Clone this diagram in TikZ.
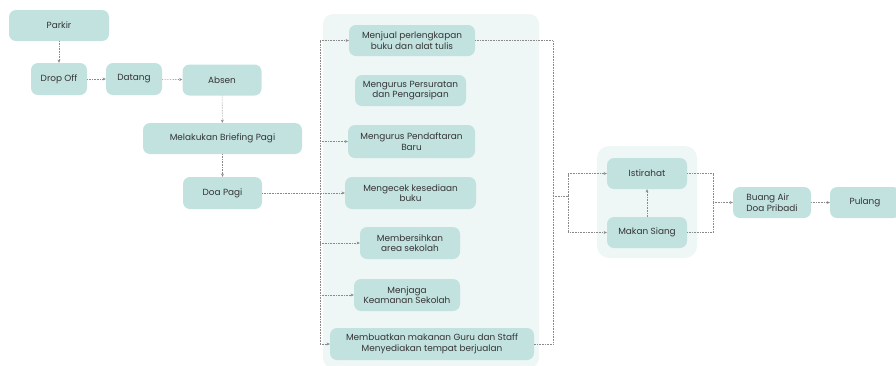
\documentclass[tikz,border=0pt]{standalone}
\usepackage{fontspec}
\setmainfont{Poppins}
\usetikzlibrary{arrows.meta,positioning,calc}
\definecolor{boxfill}{HTML}{C2E2E0}
\definecolor{panelfill}{HTML}{EEF7F6}
\definecolor{linkgray}{HTML}{8A8A8A}
\definecolor{txt}{HTML}{333333}
\tikzset{
  stepbox/.style={fill=boxfill, rounded corners=7pt, text=txt, align=center,
    font=\fontsize{8.9}{10.6}\selectfont, inner sep=1pt, anchor=center},
  link/.style={draw=linkgray, densely dotted, line width=0.6pt,
    -{Stealth[length=3.2pt,width=3pt]}},
  plain/.style={draw=linkgray, densely dotted, line width=0.6pt}
}
\begin{document}
\begin{tikzpicture}[x=1pt,y=-1pt]
\useasboundingbox (0,0) rectangle (896,365);
\begin{scope}
\clip (0,0) rectangle (896,365);
% background panels
\fill[panelfill, rounded corners=10pt] (323,14) rectangle (539,368);
\fill[panelfill, rounded corners=12pt] (597,146) rectangle (697,258);

% morning sequence
\node[stepbox, minimum width=100pt, minimum height=31pt] (parkir) at (59,25.5) {Parkir};
\node[stepbox, minimum width=56pt, minimum height=32pt] (drop) at (59,79) {Drop Off};
\node[stepbox, minimum width=56pt, minimum height=32pt] (datang) at (134,79) {Datang};
\node[stepbox, minimum width=79pt, minimum height=31pt] (absen) at (222,80) {Absen};
\node[stepbox, minimum width=159pt, minimum height=31pt] (brief) at (222.5,138.5) {Melakukan Briefing Pagi};
\node[stepbox, minimum width=79pt, minimum height=32pt] (doa) at (222.5,193) {Doa Pagi};

% tasks
\node[stepbox, minimum width=126pt, minimum height=31pt] (t1) at (412,40.5) {Menjual perlengkapan\\buku dan alat tulis};
\node[stepbox, minimum width=111pt, minimum height=31pt] (t2) at (410.5,90.5) {Mengurus Persuratan\\dan Pengarsipan};
\node[stepbox, minimum width=127pt, minimum height=33pt] (t3) at (411.5,141.5) {Mengurus Pendaftaran\\Baru};
\node[stepbox, minimum width=131pt, minimum height=32pt] (t4) at (410.5,193) {Mengecek kesediaan\\buku};
\node[stepbox, minimum width=100pt, minimum height=32pt] (t5) at (410,243) {Membersihkan\\area sekolah};
\node[stepbox, minimum width=106pt, minimum height=32pt] (t6) at (407,295) {Menjaga\\Keamanan Sekolah};
\node[stepbox, minimum width=204pt, minimum height=32pt] (t7) at (432,344) {Membuatkan makanan Guru dan Staff\\Menyediakan tempat berjualan};

% midday and end of day
\node[stepbox, minimum width=80pt, minimum height=31pt] (rest) at (647,173.5) {Istirahat};
\node[stepbox, minimum width=80pt, minimum height=31pt] (lunch) at (647,232.5) {Makan Siang};
\node[stepbox, minimum width=78pt, minimum height=31pt, align=left] (buang) at (772,202.5) {Buang Air\\Doa Pribadi};
\node[stepbox, minimum width=70pt, minimum height=31pt] (pulang) at (865,202.5) {Pulang};
\end{scope}

% junction points
\coordinate (lb) at (320,0);
\coordinate (rb) at (553,0);
\coordinate (jn) at (568,196);
\coordinate (mj) at (713,202.5);

% morning links
\draw[link] (parkir.south) -- (drop.north);
\draw[link] (drop) -- (datang);
\draw[link] (datang) -- (absen);
\draw[link] (absen) -- (brief);
\draw[link] (brief) -- (doa);

% left bus to every task
\draw[plain] (lb |- t1.west) -- (lb |- t7.west);
\draw[plain] (doa.east) -- (lb |- doa.east);
\draw[link] (lb |- t1.west) -- (t1.west);
\draw[link] (lb |- t3.west) -- (t3.west);
\draw[link] (doa.east) -- (t4.west);
\draw[link] (lb |- t5.west) -- (t5.west);
\draw[link] (lb |- t6.west) -- (t6.west);
\draw[link] (lb |- t7.west) -- (t7.west);

% right bus collecting the tasks
\draw[plain] (t1.east) -- (rb |- t1.east) -- (rb |- t7.east) -- (t7.east);
\draw[plain] (rb |- jn) -- (jn);
\draw[link] (jn) |- (rest.west);
\draw[link] (jn) |- (lunch.west);
\draw[link] (lunch) -- (rest);

% after the break
\draw[plain] (rest.east) -| (mj);
\draw[plain] (lunch.east) -| (mj);
\draw[link] (mj) -- (buang.west);
\draw[link] (buang) -- (pulang);
\end{tikzpicture}
\end{document}
